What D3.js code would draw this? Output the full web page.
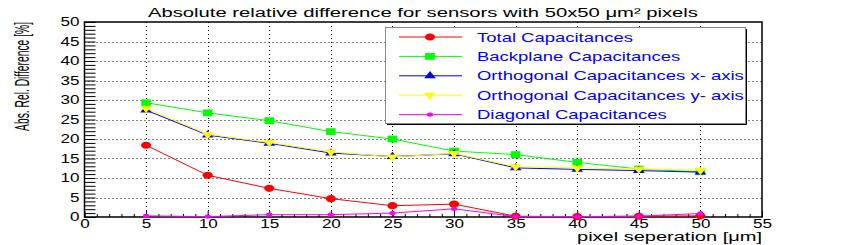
<!DOCTYPE html>
<meta charset="utf-8">
<style>
body { margin: 0; background: #fff; }
text { font-family: "Liberation Sans", Arial, sans-serif; }
.grid line { stroke: #000; stroke-width: 1; stroke-dasharray: 1,3; }
.tick line { stroke: #000; }
</style>
<body>
<script src="https://d3js.org/d3.v7.min.js"></script>
<script>

// data
var pixelSep   = [5, 10, 15, 20, 25, 30, 35, 40, 45, 50];
var totalCap   = [18.4, 10.7, 7.35, 4.7, 2.9, 3.3, 0.2, 0.1, 0.2, 0.3];
var backCap    = [29.3, 26.7, 24.7, 21.9, 20.0, 16.9, 16.0, 14.0, 12.3, 11.6];
var orthoXCap  = [27.4, 21.0, 18.9, 16.4, 15.5, 16.2, 12.6, 12.2, 11.9, 11.5];
var orthoYCap  = [27.9, 21.2, 19.1, 16.7, 15.4, 16.3, 12.9, 12.6, 12.3, 12.0];
var diagCap    = [0.3, 0.1, 0.6, 0.6, 1.0, 2.1, 0.1, 0.1, 0.2, 0.9];

var seriesNames = ["Total Capacitances", "Backplane Capacitances",
  "Orthogonal Capacitances x- axis", "Orthogonal Capacitances y- axis",
  "Diagonal Capacitances"];
var seriesColors = ["#ff0000", "#00ff00", "#0000ff", "#ffff00", "#ff00ff"];
var seriesShapes = ["circle", "square", "up", "down", "dot"];

var xTicks = [0, 5, 10, 15, 20, 25, 30, 35, 40, 45, 50, 55];
var yTicks = [0, 5, 10, 15, 20, 25, 30, 35, 40, 45, 50];

var titleText = "Absolute relative difference for sensors with 50x50 \u03bcm\u00b2 pixels";
var xLabel = "pixel seperation [\u03bcm]";
var yLabel = "Abs. Rel. Difference [%]";

var series = [totalCap, backCap, orthoXCap, orthoYCap, diagCap].map(function(vals, i) {
  return {
    name: seriesNames[i], color: seriesColors[i], shape: seriesShapes[i],
    points: vals.map(function(v, j) { return {x: pixelSep[j], y: v}; })
  };
});

var W = 847, H = 245;
var SX = 1.42; // the picture is stretched sideways

var x = d3.scaleLinear().domain([0, 55]).range([84.5, 762]);
var y = d3.scaleLinear().domain([0, 50]).range([217, 22]);

var svg = d3.select("body").append("svg")
  .attr("width", W)
  .attr("height", H);

function stretchText(sel, k) {
  sel.each(function() {
    var len = this.getComputedTextLength();
    d3.select(this).attr("textLength", len * k).attr("lengthAdjust", "spacingAndGlyphs");
  });
}

// grid
var grid = svg.append("g").attr("class", "grid");
grid.selectAll(".gx")
  .data(xTicks.filter(function(d) { return d > 0 && d < 55; }))
  .enter().append("line")
  .attr("x1", function(d) { return Math.round(x(d)) + 0.5; })
  .attr("x2", function(d) { return Math.round(x(d)) + 0.5; })
  .attr("y1", y(50)).attr("y2", y(0));
grid.selectAll(".gy")
  .data(yTicks.filter(function(d) { return d > 0 && d < 50; }))
  .enter().append("line")
  .attr("y1", function(d) { return Math.round(y(d)) + 0.5; })
  .attr("y2", function(d) { return Math.round(y(d)) + 0.5; })
  .attr("x1", x(0)).attr("x2", x(55));

// axes
var xMinor = d3.axisBottom(x).tickValues(d3.range(0, 56, 1)).tickSize(-3).tickFormat("");
var xMajor = d3.axisBottom(x).tickValues(xTicks).tickSize(-6).tickPadding(2);
var yMinor = d3.axisLeft(y).tickValues(d3.range(0, 51, 1)).tickSize(-11).tickFormat("");
var yMajor = d3.axisLeft(y).tickValues(yTicks).tickSize(0).tickPadding(5);

svg.append("g").attr("transform", "translate(0," + y(0) + ")").call(xMinor)
  .call(function(g) { g.select(".domain").remove(); });
var gx = svg.append("g").attr("transform", "translate(0," + y(0) + ")").call(xMajor)
  .call(function(g) { g.select(".domain").remove(); });
gx.selectAll("text").style("font-size", "12px").style("fill", "#000");
stretchText(gx.selectAll("text"), SX);

svg.append("g").attr("transform", "translate(" + x(0) + ",0)").call(yMinor)
  .call(function(g) { g.select(".domain").remove(); });
var gy = svg.append("g").attr("transform", "translate(" + x(0) + ",0)").call(yMajor)
  .call(function(g) { g.select(".domain").remove(); });
gy.selectAll("text").style("font-size", "12px").style("fill", "#000");
stretchText(gy.selectAll("text"), SX);

// frame
svg.append("rect")
  .attr("x", x(0)).attr("y", y(50))
  .attr("width", x(55) - x(0)).attr("height", y(0) - y(50))
  .attr("fill", "none").attr("stroke", "#000").attr("stroke-width", 1.5);

// markers
function marker(sel, shape, color) {
  var sym, rot = 0;
  if (shape === "circle") sym = d3.symbol(d3.symbolCircle, 40);
  else if (shape === "square") sym = d3.symbol(d3.symbolSquare, 46);
  else if (shape === "up") sym = d3.symbol(d3.symbolTriangle, 30);
  else if (shape === "down") { sym = d3.symbol(d3.symbolTriangle, 30); rot = 180; }
  else sym = d3.symbol(d3.symbolCircle, 15);
  sel.append("path")
    .attr("d", sym)
    .attr("fill", color)
    .attr("transform", "scale(" + SX + ",1)" + (rot ? " rotate(" + rot + ")" : ""));
}

var line = d3.line()
  .x(function(d) { return x(d.x); })
  .y(function(d) { return y(d.y); });

series.forEach(function(s) {
  var g = svg.append("g");
  g.append("path")
    .attr("d", line(s.points))
    .attr("fill", "none")
    .attr("stroke", s.color)
    .attr("stroke-width", 1);
  var pts = g.selectAll(".pt")
    .data(s.points)
    .enter().append("g")
    .attr("transform", function(d) { return "translate(" + x(d.x) + "," + y(d.y) + ")"; });
  marker(pts, s.shape, s.color);
});

// title and axis labels
svg.append("text")
  .attr("x", 423).attr("y", 17)
  .attr("text-anchor", "middle")
  .style("font-size", "12.5px")
  .attr("textLength", 550)
  .attr("lengthAdjust", "spacingAndGlyphs")
  .text(titleText);

svg.append("text")
  .attr("x", 762).attr("y", 241)
  .attr("text-anchor", "end")
  .style("font-size", "12.5px")
  .attr("textLength", 185)
  .attr("lengthAdjust", "spacingAndGlyphs")
  .text(xLabel);

// y label: squeezed along its length, widened across it
var yl = svg.append("text")
  .attr("text-anchor", "end")
  .style("font-size", "14px")
  .text(yLabel);
var ylLen = yl.node().getComputedTextLength();
yl.attr("transform", "translate(29," + y(50) + ") rotate(-90) scale(" + (109 / ylLen) + ",1.4)");

// legend
var lx = 385, ly = 27, lw = 360, lh = 96;
var legend = svg.append("g");
legend.append("rect")
  .attr("x", lx + 0.5).attr("y", ly + 0.5)
  .attr("width", lw).attr("height", lh)
  .attr("fill", "#fff").attr("stroke", "#888").attr("stroke-width", 1);
legend.append("path")
  .attr("d", "M" + (lx + lw + 1.5) + "," + (ly + 2) + "V" + (ly + lh + 1.5) + "H" + (lx + 2))
  .attr("fill", "none").attr("stroke", "#000").attr("stroke-width", 1);

var rows = legend.selectAll(".row")
  .data(series)
  .enter().append("g")
  .attr("transform", function(d, i) { return "translate(0," + (37 + i * 19.4) + ")"; });
rows.append("line")
  .attr("x1", 399).attr("x2", 462)
  .attr("y1", 0).attr("y2", 0)
  .attr("stroke", function(d) { return d.color; })
  .attr("stroke-width", 1);
rows.each(function(d) {
  var m = d3.select(this).append("g").attr("transform", "translate(430,0)");
  marker(m, d.shape, d.color);
});
rows.append("text")
  .attr("x", 477).attr("y", 4.5)
  .style("font-size", "13px")
  .style("fill", "#0000ff")
  .text(function(d) { return d.name; })
  .call(stretchText, SX);

</script>
</body>
